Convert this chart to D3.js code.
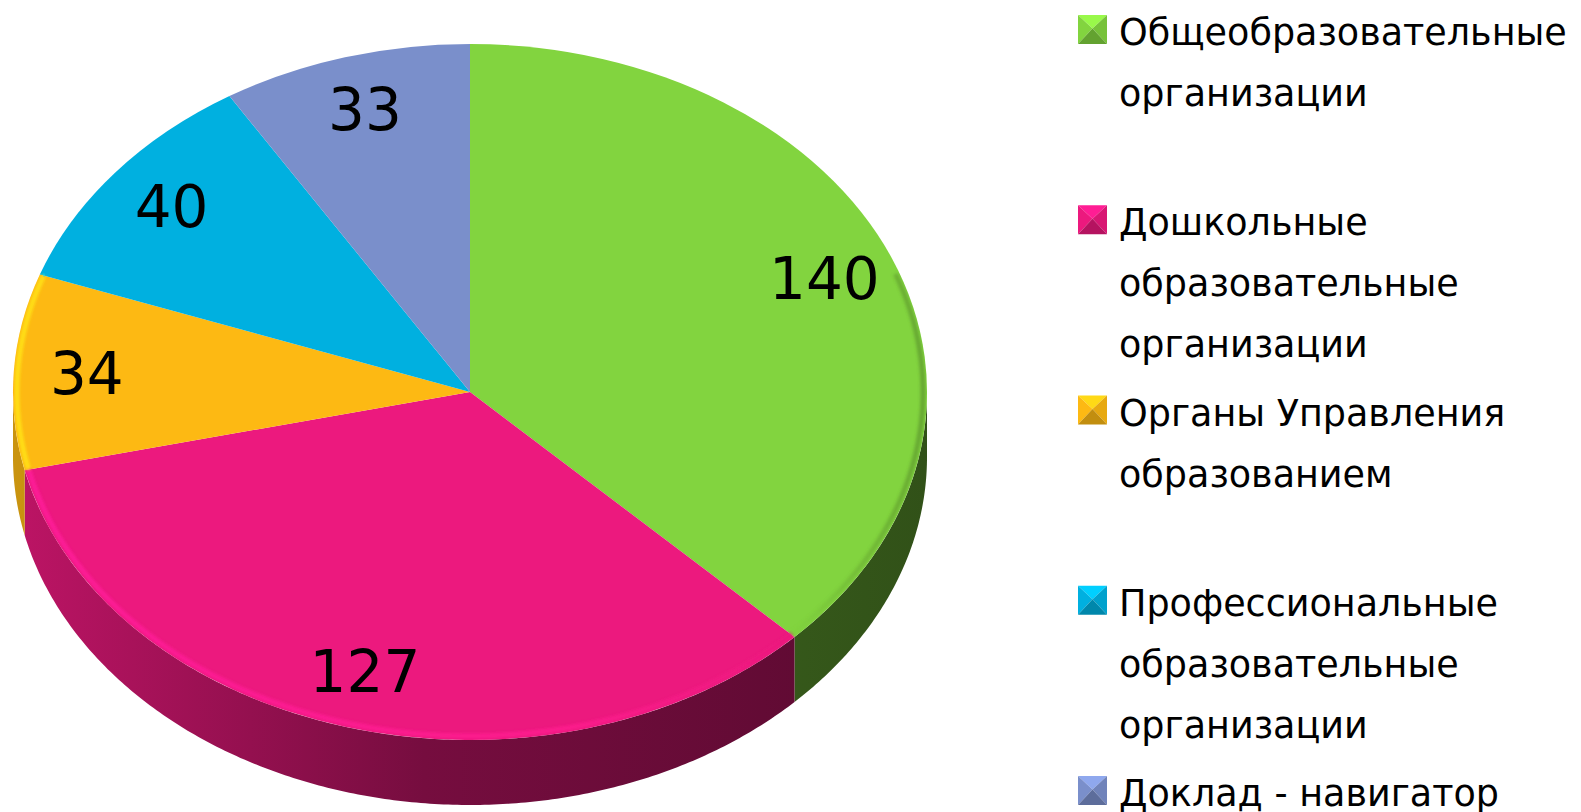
<!DOCTYPE html>
<html>
<head>
<meta charset="utf-8">
<script src="https://cdn.jsdelivr.net/npm/d3@7"></script>
<style>
  body { margin: 0; background: #fff; }
  svg { display: block; font-family: "DejaVu Sans", sans-serif; }
</style>
</head>
<body>
<div id="chart"></div>
<script>
// Data
const categories = [
    "Общеобразовательные организации",
    "Дошкольные образовательные организации",
    "Органы Управления образованием",
    "Профессиональные образовательные организации",
    "Доклад - навигатор"
];
const legendLines = [
    ["Общеобразовательные", "организации"],
    ["Дошкольные", "образовательные", "организации"],
    ["Органы Управления", "образованием"],
    ["Профессиональные", "образовательные", "организации"],
    ["Доклад - навигатор"]
];
const values = [140, 127, 34, 40, 33];
const colors = ["#82d43f", "#ec197e", "#fdb913", "#00b0e0", "#7a8fcb"];

function shade(c, f) {
    const r = d3.rgb(c);
    return d3.rgb(r.r * f, r.g * f, r.b * f).formatHex();
}

// 3D-looking pie: top face is a squashed d3.arc, the front wall is built from the same angles
function draw_pie3d(chartID) {
    const width = 1581, height = 812;
    const cx = 470, cy = 392, rx = 457, ry = 348, depth = 65;
    const k = ry / rx;

    d3.select(chartID).html("");
    const svg = d3.select(chartID).append("svg")
        .attr("width", width)
        .attr("height", height);

    const defs = svg.append("defs");
    const arcs = d3.pie().sort(null).value(d => d)(values);

    // gradients for the walls (lighter on the left, dark on the right)
    colors.forEach((c, i) => {
        const g = defs.append("linearGradient")
            .attr("id", "side" + i)
            .attr("gradientUnits", "userSpaceOnUse")
            .attr("x1", cx - rx).attr("x2", cx + rx)
            .attr("y1", 0).attr("y2", 0);
        g.append("stop").attr("offset", 0).attr("stop-color", shade(c, 0.8));
        g.append("stop").attr("offset", 0.45).attr("stop-color", shade(c, 0.5));
        g.append("stop").attr("offset", 1).attr("stop-color", shade(c, 0.38));

        const rim = defs.append("linearGradient")
            .attr("id", "rim" + i)
            .attr("gradientUnits", "userSpaceOnUse")
            .attr("x1", cx - rx).attr("x2", cx + rx)
            .attr("y1", 0).attr("y2", 0);
        rim.append("stop").attr("offset", 0).attr("stop-color", d3.rgb(c).brighter(0.6).formatHex());
        rim.append("stop").attr("offset", 0.6).attr("stop-color", d3.rgb(c).brighter(0.35).formatHex());
        rim.append("stop").attr("offset", 0.85).attr("stop-color", c);
        rim.append("stop").attr("offset", 1).attr("stop-color", d3.rgb(c).darker(0.8).formatHex());
    });

    defs.append("filter").attr("id", "soft")
        .append("feGaussianBlur").attr("stdDeviation", 1.6);

    defs.append("clipPath").attr("id", "topClip")
        .append("ellipse")
        .attr("cx", cx).attr("cy", cy).attr("rx", rx).attr("ry", ry);

    const px = (a, r = rx) => cx + r * Math.sin(a);
    const py = (a, r = ry) => cy - r * Math.cos(a);

    function arcPoints(a0, a1, r1, r2, dy) {
        const n = Math.max(2, Math.ceil((a1 - a0) / 0.01));
        return d3.range(n + 1).map(j => {
            const a = a0 + (a1 - a0) * j / n;
            return [px(a, r1), py(a, r2) + dy];
        });
    }

    const frontStart = Math.PI / 2, frontEnd = 3 * Math.PI / 2;

    // front walls (only the part between 90 and 270 degrees is visible)
    const walls = svg.append("g");
    arcs.forEach((d, i) => {
        const s = Math.max(d.startAngle, frontStart);
        const e = Math.min(d.endAngle, frontEnd);
        if (e <= s) return;
        const top = arcPoints(s, e, rx, ry, 0);
        const bottom = arcPoints(s, e, rx, ry, depth).reverse();
        walls.append("path")
            .attr("d", d3.line()(top.concat(bottom)) + "Z")
            .attr("fill", `url(#side${i})`);
    });

    // top faces
    const arc = d3.arc().innerRadius(0).outerRadius(rx);
    const topG = svg.append("g")
        .attr("transform", `translate(${cx},${cy}) scale(1,${k})`);
    topG.selectAll("path.slice")
        .data(arcs)
        .enter()
        .append("path")
        .attr("class", "slice")
        .attr("d", arc)
        .attr("fill", (d, i) => colors[i]);

    // soft bevel along the front edge
    const rimG = svg.append("g").attr("clip-path", "url(#topClip)");
    arcs.forEach((d, i) => {
        const s = Math.max(d.startAngle, frontStart - 0.35);
        const e = Math.min(d.endAngle, frontEnd + 0.35);
        if (e <= s) return;
        const pts = arcPoints(s, e, rx - 4, ry - 4, 0);
        rimG.append("path")
            .attr("d", d3.line()(pts))
            .attr("fill", "none")
            .attr("stroke", `url(#rim${i})`)
            .attr("stroke-width", 5)
            .attr("opacity", 0.85)
            .attr("filter", "url(#soft)");
    });

    // value labels at the squashed centroid
    const labelArc = d3.arc().innerRadius(rx * 0.84).outerRadius(rx * 0.84);
    svg.append("g").selectAll("text")
        .data(arcs)
        .enter()
        .append("text")
        .attr("x", d => cx + labelArc.centroid(d)[0])
        .attr("y", d => cy + labelArc.centroid(d)[1] * k)
        .attr("text-anchor", "middle")
        .attr("dy", "0.33em")
        .style("font-size", "58px")
        .style("fill", "#000")
        .text(d => d.value);

    // legend with pyramid-style markers
    const legend = svg.selectAll(".legend")
        .data(categories)
        .enter()
        .append("g")
        .attr("class", "legend")
        .attr("transform", (d, i) => `translate(1078, ${44 + i * 190.25})`);

    const m = 29;
    legend.each(function(d, i) {
        const g = d3.select(this);
        const c = colors[i];
        const ax = m / 2, ay = -m / 2 - 1;
        const faces = [
            [[0, -m], [m, -m], [ax, ay], d3.rgb(c).brighter(0.45)],
            [[0, -m], [0, 0], [ax, ay], d3.rgb(c)],
            [[m, -m], [m, 0], [ax, ay], d3.rgb(c).darker(0.25)],
            [[0, 0], [m, 0], [ax, ay], d3.rgb(c).darker(0.75)]
        ];
        faces.forEach(f => {
            g.append("path")
                .attr("d", d3.line()([f[0], f[1], f[2]]) + "Z")
                .attr("fill", f[3].formatHex());
        });
        g.append("text")
            .attr("x", 41)
            .attr("y", 1)
            .style("font-size", "36.5px")
            .style("fill", "#000")
            .selectAll("tspan")
            .data(legendLines[i])
            .enter()
            .append("tspan")
            .attr("x", 41)
            .attr("dy", (t, j) => j === 0 ? 0 : 61)
            .text(t => t);
    });
}

draw_pie3d("#chart");
</script>
</body>
</html>
